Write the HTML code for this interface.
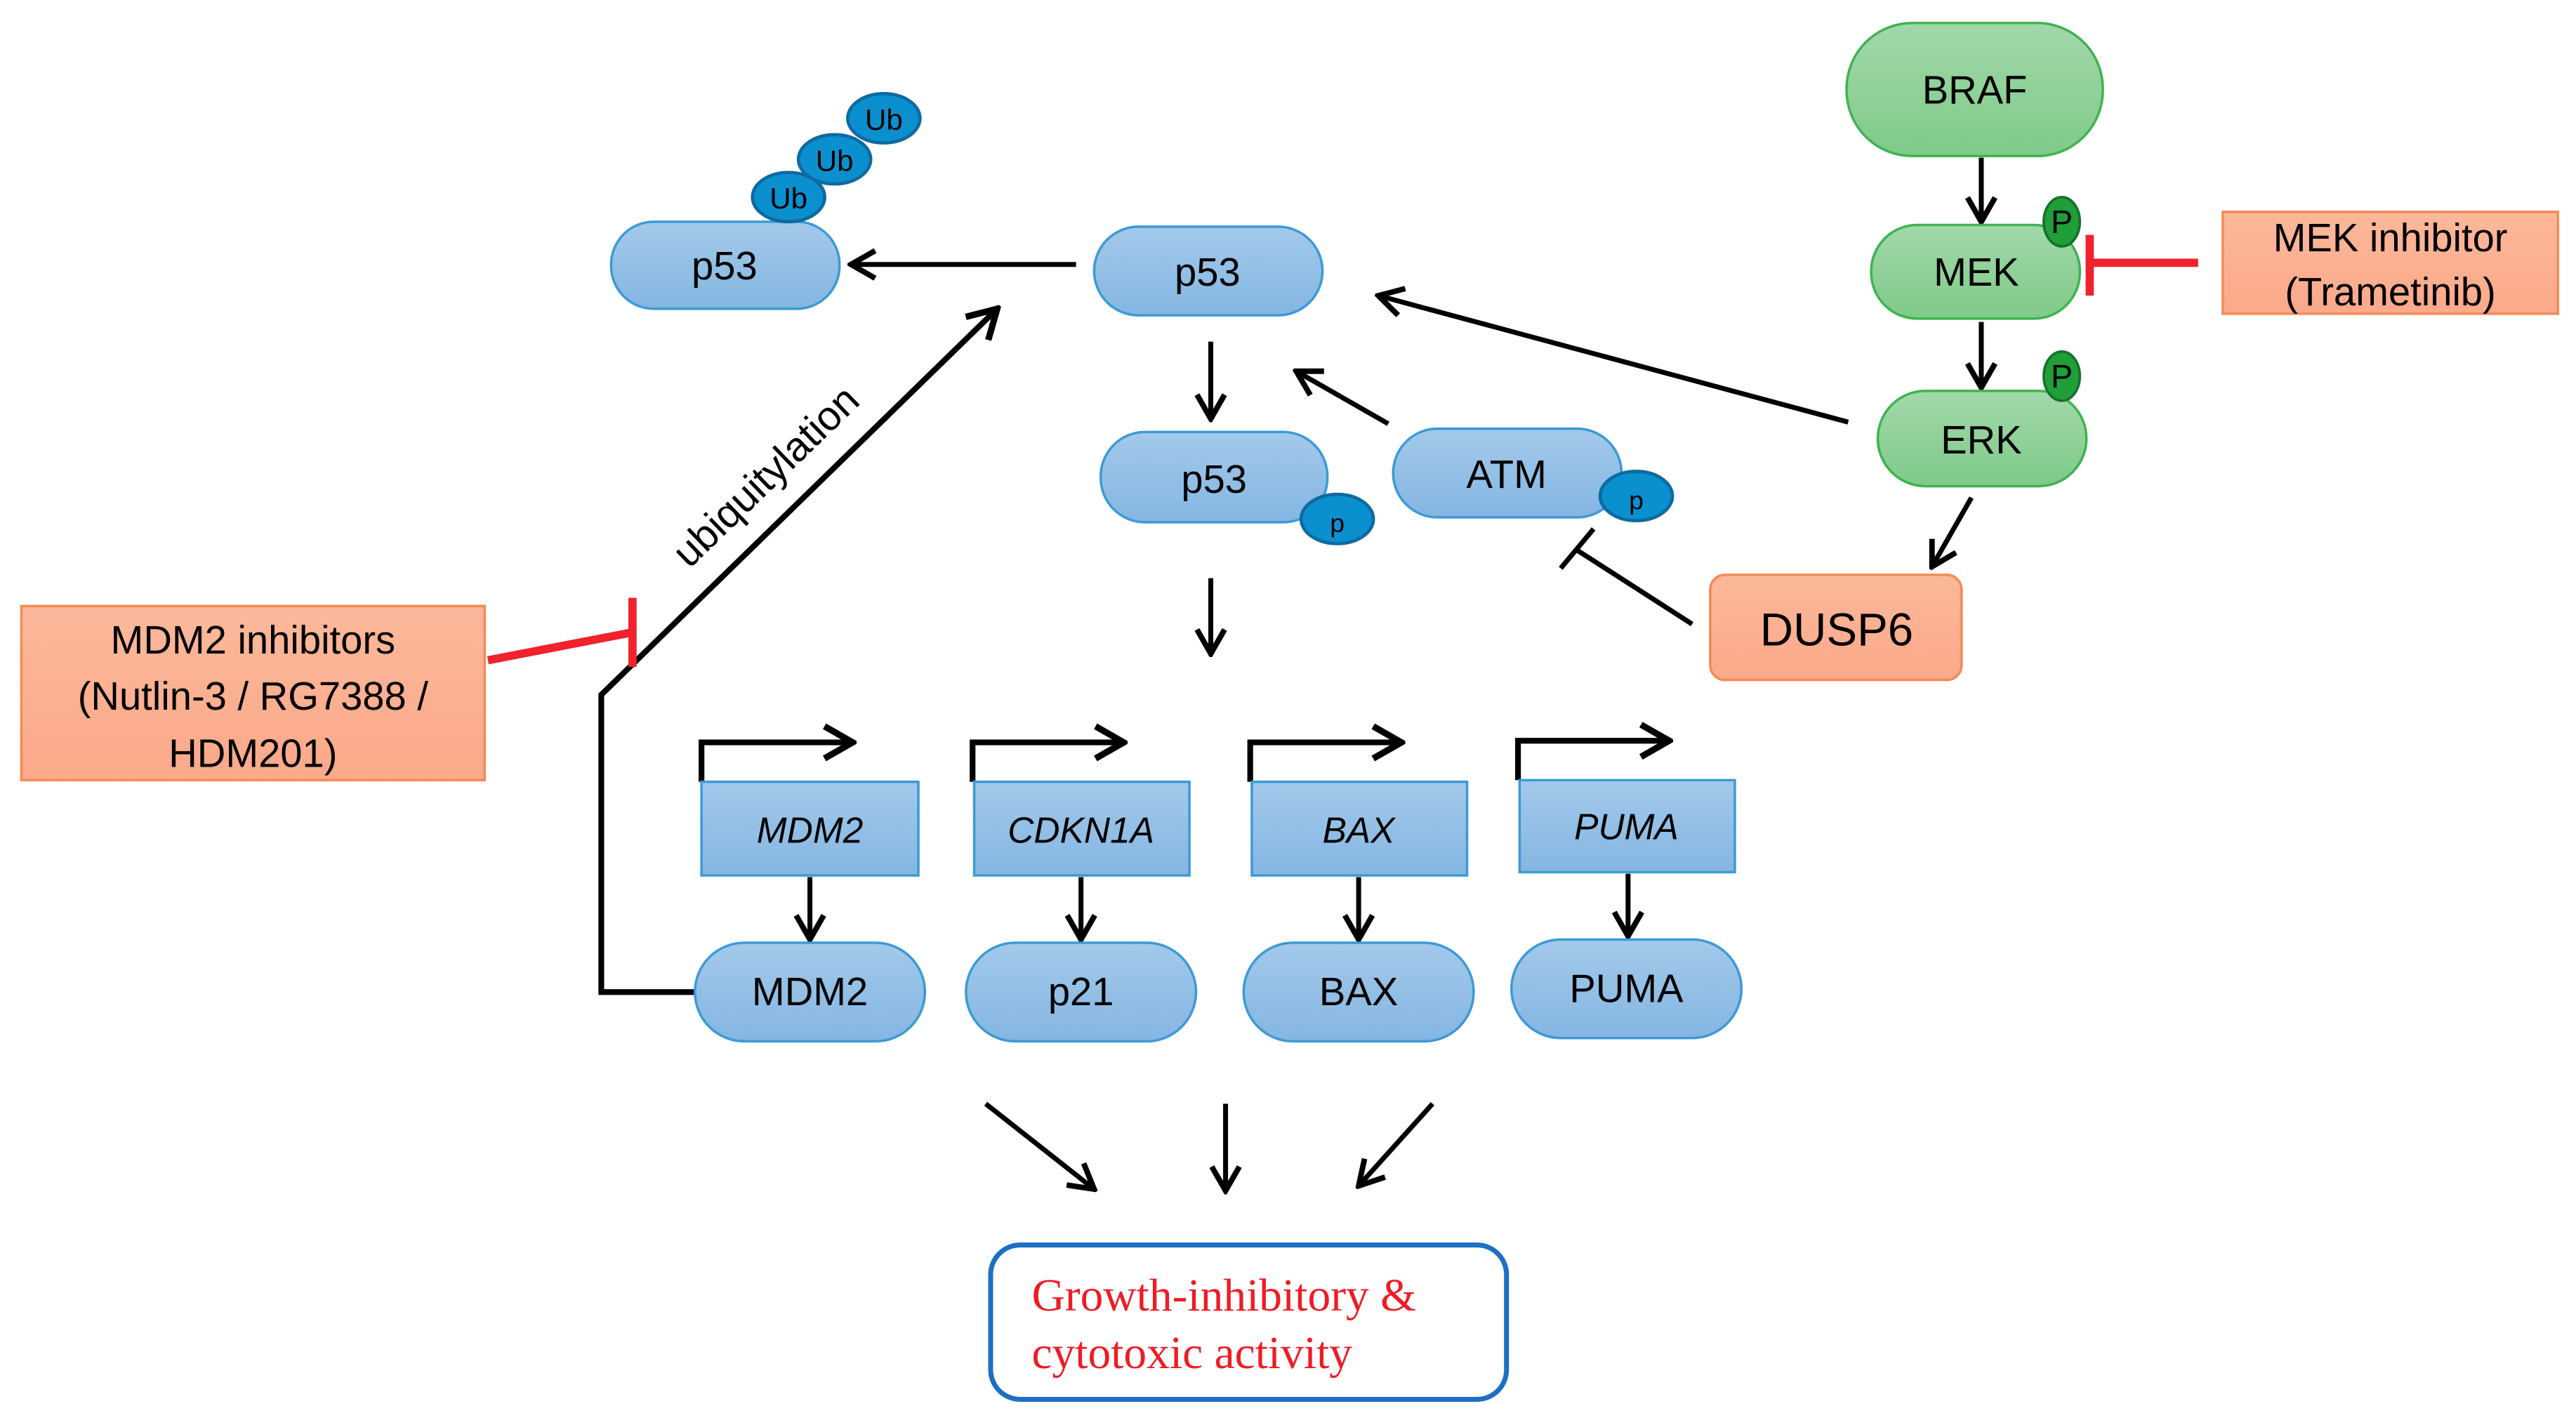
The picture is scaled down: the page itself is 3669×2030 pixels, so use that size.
<!DOCTYPE html>
<html><head><meta charset="utf-8"><style>html,body{margin:0;padding:0;background:#fff}svg{display:block}</style></head>
<body>
<svg width="3669" height="2030" viewBox="0 0 1568 867.6" preserveAspectRatio="none" xmlns="http://www.w3.org/2000/svg" font-family="Liberation Sans, sans-serif">
<defs>
<linearGradient id="bl" x1="0" y1="0" x2="0" y2="1"><stop offset="0" stop-color="#a3c9ea"/><stop offset="1" stop-color="#84b6e2"/></linearGradient>
<linearGradient id="gr" x1="0" y1="0" x2="0" y2="1"><stop offset="0" stop-color="#a2d8aa"/><stop offset="1" stop-color="#7fca89"/></linearGradient>
<linearGradient id="or" x1="0" y1="0" x2="0" y2="1"><stop offset="0" stop-color="#fcb89a"/><stop offset="1" stop-color="#fba98a"/></linearGradient>
<marker id="a" viewBox="0 0 20 20" refX="18" refY="10" markerWidth="7" markerHeight="7" orient="auto" markerUnits="strokeWidth"><path d="M4 2 L18 10 L4 18" fill="none" stroke="#000" stroke-width="3.2"/></marker>
</defs>
<g stroke="#000" stroke-width="3" fill="none">
<line x1="655" y1="161" x2="518" y2="161" marker-end="url(#a)"/>
<line x1="737" y1="208" x2="737" y2="255" marker-end="url(#a)"/>
<line x1="845" y1="258" x2="789" y2="226" marker-end="url(#a)"/>
<line x1="1125" y1="257" x2="839" y2="180" marker-end="url(#a)"/>
<line x1="1206" y1="96" x2="1206" y2="135" marker-end="url(#a)"/>
<line x1="1206" y1="196" x2="1206" y2="236" marker-end="url(#a)"/>
<line x1="1200" y1="303" x2="1176" y2="345" marker-end="url(#a)"/>
<line x1="1030" y1="380" x2="960" y2="335"/>
<line x1="950" y1="346" x2="970" y2="322"/>
<line x1="737" y1="352" x2="737" y2="398" marker-end="url(#a)"/>
<line x1="493" y1="534" x2="493" y2="572" marker-end="url(#a)"/>
<line x1="658" y1="534" x2="658" y2="572" marker-end="url(#a)"/>
<line x1="827" y1="534" x2="827" y2="572" marker-end="url(#a)"/>
<line x1="991" y1="532" x2="991" y2="570" marker-end="url(#a)"/>
<line x1="600" y1="672" x2="666" y2="724" marker-end="url(#a)"/>
<line x1="746" y1="672" x2="746" y2="725" marker-end="url(#a)"/>
<line x1="872" y1="672" x2="827" y2="722" marker-end="url(#a)"/>
<path d="M423 604 H366 V423 L607 188" marker-end="url(#a)" stroke-width="3.5"/>
<path d="M427 476 V452 H519" stroke-width="3.5" marker-end="url(#a)"/>
<path d="M592 476 V452 H684" stroke-width="3.5" marker-end="url(#a)"/>
<path d="M761 476 V452 H853" stroke-width="3.5" marker-end="url(#a)"/>
<path d="M924 475 V451 H1016" stroke-width="3.5" marker-end="url(#a)"/>
</g>
<g stroke="#f0222d" stroke-width="5" fill="none">
<line x1="1338" y1="160" x2="1272" y2="160"/><line x1="1272" y1="143" x2="1272" y2="180"/>
<line x1="297" y1="402" x2="385" y2="385"/><line x1="385" y1="364" x2="385" y2="406"/>
</g>
<g fill="url(#bl)" stroke="#3c9ad6" stroke-width="1.5">
<rect x="372" y="135" width="139" height="53" rx="26"/>
<rect x="666" y="138" width="139" height="54" rx="27"/>
<rect x="670" y="263" width="138" height="55" rx="27"/>
<rect x="848" y="261" width="139" height="54" rx="27"/>
<rect x="423" y="574" width="140" height="60" rx="30"/>
<rect x="588" y="574" width="140" height="60" rx="30"/>
<rect x="757" y="574" width="140" height="60" rx="30"/>
<rect x="920" y="572" width="140" height="60" rx="30"/>
<rect x="427" y="476" width="132" height="57"/>
<rect x="593" y="476" width="131" height="57"/>
<rect x="762" y="476" width="131" height="57"/>
<rect x="925" y="475" width="131" height="56"/>
</g>
<g fill="#0a8fcf" stroke="#0e6aa0" stroke-width="2">
<ellipse cx="480" cy="120" rx="22" ry="15"/><ellipse cx="508" cy="97" rx="22" ry="15"/><ellipse cx="538" cy="72" rx="22" ry="15"/>
<ellipse cx="814" cy="316" rx="22" ry="15"/><ellipse cx="996" cy="302" rx="22" ry="15"/>
</g>
<g fill="url(#gr)" stroke="#3fb34f" stroke-width="1.5">
<rect x="1124" y="14" width="156" height="81" rx="40"/>
<rect x="1139" y="137" width="127" height="57" rx="28"/>
<rect x="1143" y="238" width="127" height="58" rx="29"/>
</g>
<g fill="#1f9e3a" stroke="#14702a" stroke-width="1.5">
<ellipse cx="1255" cy="135" rx="11" ry="15"/><ellipse cx="1255" cy="229" rx="11" ry="15"/>
</g>
<g fill="url(#or)" stroke="#f58a55" stroke-width="1.5">
<rect x="1353" y="129" width="204" height="62"/>
<rect x="1041" y="350" width="153" height="64" rx="9"/>
<rect x="13" y="369" width="282" height="106"/>
</g>
<rect x="603" y="758" width="314" height="94" rx="18" fill="#fff" stroke="#1c6fc4" stroke-width="3"/>
<g fill="#000" text-anchor="middle" font-size="24">
<text x="441" y="170">p53</text><text x="735" y="174">p53</text><text x="739" y="300">p53</text><text x="917" y="297">ATM</text>
<text x="493" y="612">MDM2</text><text x="658" y="612">p21</text><text x="827" y="612">BAX</text><text x="990" y="610">PUMA</text>
<text x="1202" y="63">BRAF</text><text x="1203" y="174">MEK</text><text x="1206" y="276">ERK</text>
<text x="1455" y="153">MEK inhibitor</text><text x="1455" y="186">(Trametinib)</text>
<text x="1118" y="393" font-size="28">DUSP6</text>
<text x="154" y="398">MDM2 inhibitors</text><text x="154" y="432">(Nutlin-3 / RG7388 /</text><text x="154" y="467">HDM201)</text>
</g>
<g fill="#000" text-anchor="middle" font-size="22" font-style="italic">
<text x="493" y="513">MDM2</text><text x="658" y="513">CDKN1A</text><text x="827" y="513">BAX</text><text x="990" y="511">PUMA</text>
</g>
<g fill="#000" text-anchor="middle" font-size="18">
<text x="480" y="127">Ub</text><text x="508" y="104">Ub</text><text x="538" y="79">Ub</text>
<text x="814" y="324" font-size="16">p</text><text x="996" y="310" font-size="16">p</text>
<text x="1255" y="142" font-size="20">P</text><text x="1255" y="236" font-size="20">P</text>
</g>
<text x="472" y="296" font-size="25" text-anchor="middle" transform="rotate(-44 472 296)">ubiquitylation</text>
<g fill="#ee1c25" font-family="Liberation Serif, serif" font-size="28">
<text x="628" y="798">Growth-inhibitory &amp;</text><text x="628" y="833">cytotoxic activity</text>
</g>
</svg>
</body></html>
